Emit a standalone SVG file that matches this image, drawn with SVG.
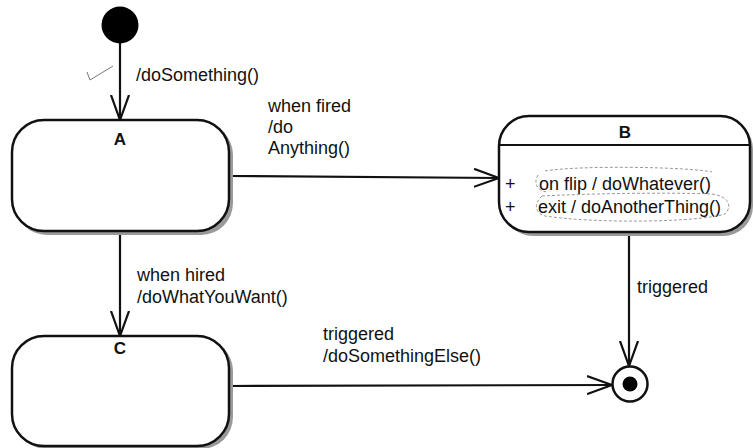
<svg xmlns="http://www.w3.org/2000/svg" width="753" height="448" viewBox="0 0 753 448">
<style>
.t{font-family:"Liberation Sans",Arial,sans-serif;font-size:18px;fill:#111}
.n{font-family:"Liberation Sans",Arial,sans-serif;font-size:17px;font-weight:bold;fill:#111;text-anchor:middle}
.box{fill:#fff;stroke:#111;stroke-width:2.5}
.sh{fill:#9a9a9a}
.ln{fill:none;stroke:#111;stroke-width:2.2}
.note{fill:none;stroke:#999;stroke-width:1;stroke-dasharray:3 2}
</style>
<defs>
<marker id="open" viewBox="0 0 26 20" refX="25" refY="10" markerWidth="26" markerHeight="20" markerUnits="userSpaceOnUse" orient="auto">
<path d="M0,1 L25,10 L0,19" fill="none" stroke="#111" stroke-width="2.2"/>
</marker>
</defs>
<rect width="753" height="448" fill="#fff"/>
<g id="connectors">
<line class="ln" x1="120" y1="43" x2="120" y2="120" marker-end="url(#open)"/>
<line class="ln" x1="229" y1="176" x2="499" y2="178" marker-end="url(#open)"/>
<line class="ln" x1="120" y1="231" x2="120" y2="336" marker-end="url(#open)"/>
<line class="ln" x1="629" y1="233" x2="629" y2="366" marker-end="url(#open)"/>
<line class="ln" x1="229" y1="386" x2="612" y2="385" marker-end="url(#open)"/>
<text class="t" x="136" y="81">/doSomething()</text>
<text class="t" x="268" y="112">when fired</text>
<text class="t" x="268" y="133">/do</text>
<text class="t" x="268" y="154">Anything()</text>
<text class="t" x="137" y="281">when hired</text>
<text class="t" x="137" y="303">/doWhatYouWant()</text>
<text class="t" x="637" y="293">triggered</text>
<text class="t" x="323" y="340">triggered</text>
<text class="t" x="323" y="362">/doSomethingElse()</text>
<polyline points="87,72 90,80 113,66" fill="none" stroke="#777" stroke-width="1"/>
</g>
<g id="initial">
<circle cx="120" cy="25" r="18.5" fill="#000"/>
</g>
<g id="A">
<rect class="sh" x="15" y="123" width="218" height="112" rx="32"/>
<rect class="box" x="12" y="120" width="217" height="111" rx="32"/>
<text class="n" x="120" y="145">A</text>
</g>
<g id="B">
<rect class="sh" x="503" y="119" width="250" height="117" rx="30"/>
<rect class="box" x="499" y="116" width="251" height="116" rx="30"/>
<line x1="499" y1="145" x2="750" y2="145" stroke="#111" stroke-width="2.2"/>
<text class="n" x="625" y="138">B</text>
<text class="t" x="505" y="190">+</text>
<text class="t" x="539" y="190">on flip / doWhatever()</text>
<text class="t" x="505" y="213">+</text>
<text class="t" x="538" y="213">exit / doAnotherThing()</text>
<path class="note" d="M545,171 C580,165 690,167 712,172 M538,175 C532,185 540,192 548,192 M542,196 C535,202 533,212 545,216 C600,224 700,222 725,214 C733,206 728,196 712,194 C660,192 580,194 542,196"/>
</g>
<g id="C">
<rect class="sh" x="15" y="339" width="218" height="110" rx="32"/>
<rect class="box" x="12" y="336" width="217" height="110" rx="32"/>
<text class="n" x="120" y="354">C</text>
</g>
<g id="final">
<circle cx="630" cy="384" r="17.5" fill="#fff" stroke="#111" stroke-width="2.5"/>
<circle cx="630" cy="384" r="7.5" fill="#000"/>
</g>
</svg>
